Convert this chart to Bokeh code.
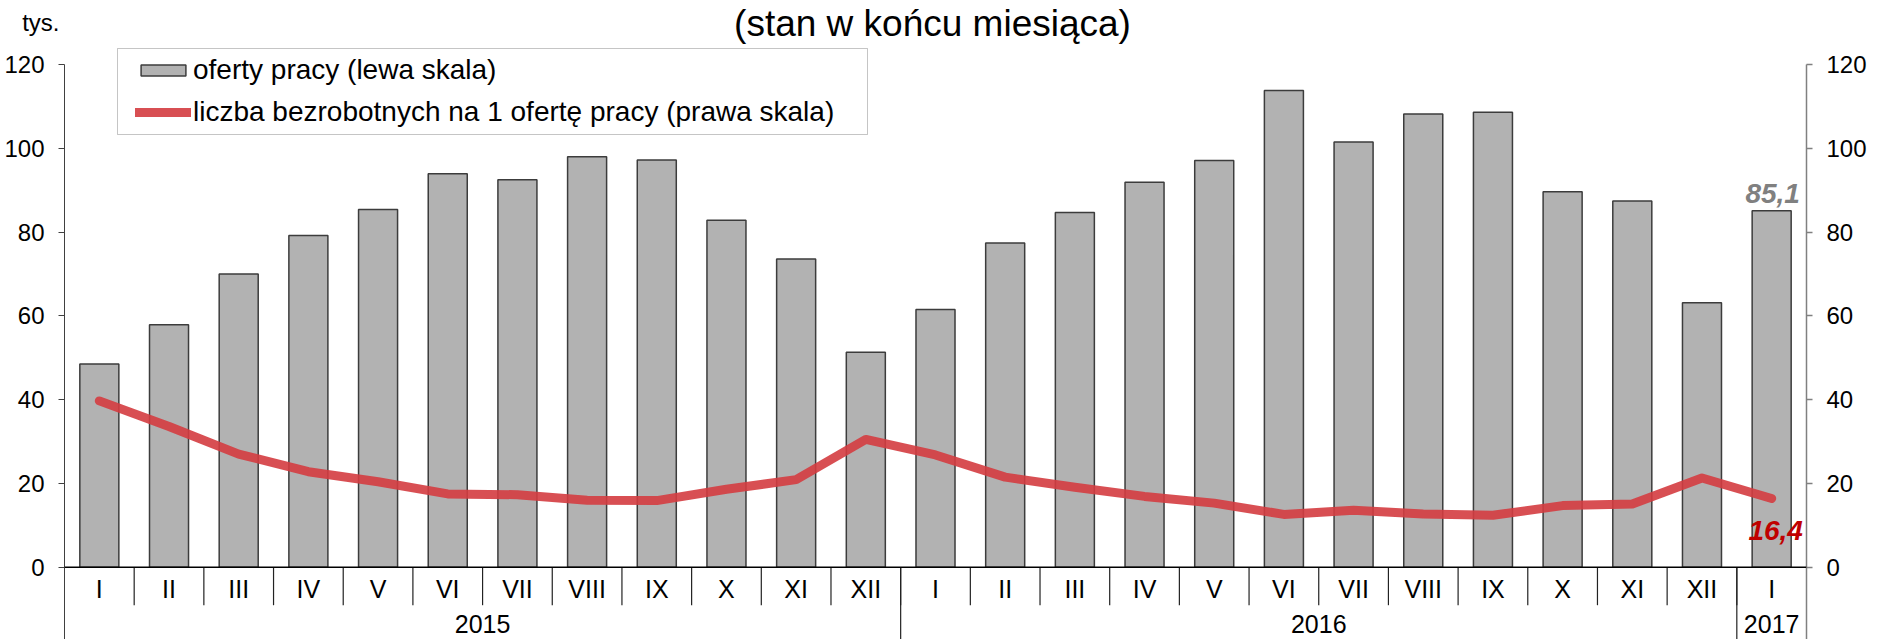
from bokeh.plotting import figure
from bokeh.models import (Range1d, LinearAxis, FixedTicker, Legend, BoxAnnotation,
                          LegendItem, ColumnDataSource, Span)
from bokeh.core.properties import value
from bokeh.embed import file_html
from bokeh.resources import INLINE

# ---------------- data ----------------
months = ["I", "II", "III", "IV", "V", "VI", "VII", "VIII", "IX", "X", "XI", "XII",
          "I", "II", "III", "IV", "V", "VI", "VII", "VIII", "IX", "X", "XI", "XII",
          "I"]
years = ["2015", "2016", "2017"]
year_lengths = [12, 12, 1]
# oferty pracy, tys. (left scale)
offers = [48.5, 57.9, 70.0, 79.2, 85.4, 93.9, 92.5, 98.0, 97.2, 82.8, 73.6, 51.3,
          61.5, 77.4, 84.7, 91.9, 97.1, 113.8, 101.5, 108.2, 108.6, 89.6, 87.4, 63.1,
          85.1]
# liczba bezrobotnych na 1 ofertę pracy (right scale)
ratio = [39.7, 33.6, 27.0, 22.8, 20.4, 17.5, 17.3, 16.0, 15.9, 18.6, 20.9, 30.5,
         26.8, 21.5, 19.1, 16.9, 15.3, 12.6, 13.6, 12.7, 12.4, 14.7, 15.1, 21.3,
         16.4]
y_ticks = [0, 20, 40, 60, 80, 100, 120]
title_text = "(stan w końcu miesiąca)"
unit_text = "tys."
legend_labels = ["oferty pracy (lewa skala)",
                 "liczba bezrobotnych na 1 ofertę pracy (prawa skala)"]

# ---------------- layout ----------------
W, H = 1897, 639
FONT = "Liberation Sans"
LEFT, RIGHT = 64, 91
FRAME_W = W - LEFT - RIGHT
Y_MAX = 120
ZERO_FROM_TOP = 566.7              # px from figure top to the zero line
PX_0_TO_MAX = 502.7                # px between 0 and 120
u_per_px = Y_MAX / PX_0_TO_MAX
Y_TOP = ZERO_FROM_TOP * u_per_px
Y_MIN = -(H - ZERO_FROM_TOP) * u_per_px
MONTH_LABEL_Y = -22 * u_per_px
MONTH_SEP_Y = -38 * u_per_px
YEAR_LABEL_Y = -57 * u_per_px
UNIT_Y = 130
TITLE_Y = Y_MAX + 41 * u_per_px    # baseline of the title

n = len(months)
xs = [i + 0.5 for i in range(n)]
src = ColumnDataSource(dict(x=xs, offers=offers, ratio=ratio))

p = figure(width=W, height=H, x_range=Range1d(0, n), y_range=Range1d(Y_MIN, Y_TOP),
           output_backend="svg", toolbar_location=None,
           min_border_left=LEFT, min_border_right=RIGHT,
           min_border_top=0, min_border_bottom=0,
           x_axis_location=None)
p.outline_line_color = None
p.grid.visible = False
p.background_fill_color = "white"
p.border_fill_color = "white"

# left axis
ax = p.yaxis[0]
ax.ticker = FixedTicker(ticks=y_ticks)
ax.bounds = (Y_MIN, Y_MAX)
ax.major_tick_in = 0
ax.major_tick_out = 6
ax.minor_tick_line_color = None
ax.axis_line_color = "#404040"
ax.major_tick_line_color = "#404040"
ax.major_label_text_font = FONT
ax.major_label_text_font_size = "24px"
ax.major_label_text_color = "black"
ax.major_label_standoff = 14

# unit label ("tys.") as a label-only axis above the left scale
uax = LinearAxis(ticker=FixedTicker(ticks=[UNIT_Y]),
                 major_label_overrides={UNIT_Y: unit_text})
uax.axis_line_color = None
uax.major_tick_line_color = None
uax.minor_tick_line_color = None
uax.major_tick_in = 0
uax.major_tick_out = 0
uax.major_label_standoff = -58
uax.major_label_text_font = FONT
uax.major_label_text_font_size = "24px"
uax.major_label_text_color = "black"
p.add_layout(uax, "left")

# right axis
p.extra_y_ranges = {"right": Range1d(Y_MIN, Y_TOP)}
rax = LinearAxis(y_range_name="right", ticker=FixedTicker(ticks=y_ticks))
rax.bounds = (Y_MIN, Y_MAX)
rax.major_tick_in = 0
rax.major_tick_out = 6
rax.minor_tick_line_color = None
rax.axis_line_color = "#808080"
rax.axis_line_width = 1.5
rax.major_tick_line_color = "#808080"
rax.major_tick_line_width = 1.5
rax.major_label_text_font = FONT
rax.major_label_text_font_size = "24px"
rax.major_label_text_color = "black"
rax.major_label_standoff = 14
p.add_layout(rax, "right")

# legend frame (drawn underneath everything)
p.add_layout(BoxAnnotation(left=53, right=803, bottom=H - 134, top=H - 48,
                           left_units="screen", right_units="screen",
                           bottom_units="screen", top_units="screen",
                           fill_alpha=0.0, line_color="#404040", line_width=1,
                           level="underlay"))

# bars
bars = p.vbar(x="x", top="offers", bottom=0, width=0.56, source=src,
              fill_color="#B2B2B2", line_color="#3C3C3C", line_width=1.5)

# category axis (drawn below zero)
p.add_layout(Span(location=0, dimension="width", line_color="black", line_width=1.5))
bounds_month = list(range(1, n))
p.segment(x0=bounds_month, y0=[0] * len(bounds_month), x1=bounds_month,
          y1=[MONTH_SEP_Y] * len(bounds_month), line_color="#222222", line_width=1.2)
year_bounds = []
acc = 0
year_centers = []
for L in year_lengths:
    year_centers.append(acc + L / 2)
    acc += L
    year_bounds.append(acc)
year_bounds = year_bounds[:-1]
p.segment(x0=year_bounds, y0=[0] * len(year_bounds), x1=year_bounds,
          y1=[Y_MIN] * len(year_bounds), line_color="#222222", line_width=1.2)
p.text(x=xs, y=[MONTH_LABEL_Y] * n, text=months, text_align="center",
       text_baseline="middle", text_font=value(FONT), text_font_size="25px",
       text_color="black")
p.text(x=year_centers, y=[YEAR_LABEL_Y] * len(years), text=years, text_align="center",
       text_baseline="middle", text_font=value(FONT), text_font_size="25px",
       text_color="black")

# line
line = p.line(x="x", y="ratio", y_range_name="right", source=src,
              line_color="#D43C40", line_width=9, line_alpha=0.9,
              line_cap="round", line_join="round")

# value annotations for last point
fmt = lambda v: f"{v:.1f}".replace(".", ",")
p.text(x=[xs[-1]], y=[offers[-1]], text=[fmt(offers[-1])], text_align="center",
       text_baseline="alphabetic", y_offset=-17, x_offset=1,
       text_font=value(FONT), text_font_size="28px", text_font_style="bold italic",
       text_color="#808080")
p.text(x=[xs[-1]], y=[ratio[-1]], text=[fmt(ratio[-1])], text_align="center",
       text_baseline="alphabetic", y_offset=32, x_offset=4, y_range_name="right",
       text_font=value(FONT), text_font_size="28px", text_font_style="bold italic",
       text_color="#C00000")

# title
p.text(x=[n / 2], y=[TITLE_Y], text=[title_text], x_offset=-3, text_align="center",
       text_baseline="alphabetic", text_font=value(FONT), text_font_size="37px",
       text_color="black")

# legend
legend = Legend(items=[LegendItem(label=legend_labels[0], renderers=[bars]),
                       LegendItem(label=legend_labels[1], renderers=[line])],
                location=(71, 511), margin=0, padding=5, spacing=10,
                glyph_width=56, glyph_height=14, label_standoff=2,
                label_text_font=FONT, label_text_font_size="28px",
                label_text_color="black",
                border_line_color=None, background_fill_alpha=0)
p.add_layout(legend)

open("out.html", "w").write(file_html(p, INLINE))
